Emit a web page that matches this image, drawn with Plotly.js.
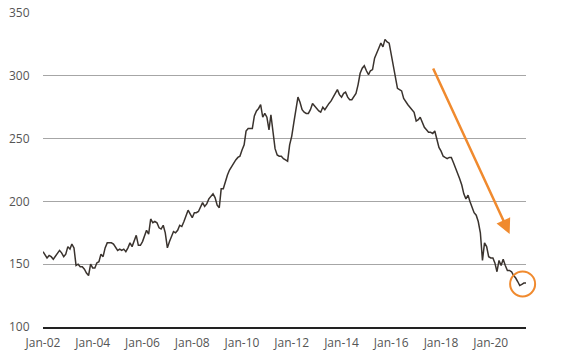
<!DOCTYPE html>
<html>
<head>
<meta charset="utf-8">
<script src="https://cdn.plot.ly/plotly-3.0.1.min.js"></script>
<style>
  html, body { margin: 0; padding: 0; background: #fff; }
  #chart { width: 565px; height: 363px; }
</style>
</head>
<body>
<div id="chart"></div>
<script>
// Monthly series, Jan-2002 .. Jun-2021
const startYear = 2002;
const values = [
  160, 157, 155, 157, 156, 154, 156, 159, 161, 159, 156, 158, // 2002
  164, 162, 166, 163, 149, 150, 148, 148, 146, 143, 141, 150, // 2003
  147, 147, 151, 152, 158, 156, 163, 167, 167, 167, 166, 163, // 2004
  161, 162, 161, 162, 160, 163, 167, 164, 169, 173, 165, 165, // 2005
  168, 173, 177, 174, 186, 183, 184, 183, 179, 178, 181, 175, // 2006
  163, 168, 172, 176, 175, 177, 181, 180, 184, 188, 193, 190, // 2007
  187, 191, 191, 192, 195, 199, 196, 198, 202, 204, 206, 203, // 2008
  197, 195, 210, 210, 216, 221, 225, 228, 230, 233, 235, 236, // 2009
  241, 245, 256, 258, 258, 258, 268, 272, 274, 277, 267, 270, // 2010
  267, 257, 269, 256, 242, 237, 236, 236, 234, 233, 232, 245, // 2011
  252, 263, 274, 283, 279, 273, 271, 270, 270, 273, 278, 276, // 2012
  274, 272, 271, 275, 273, 276, 278, 280, 283, 287, 289, 285, // 2013
  283, 286, 287, 283, 281, 281, 284, 286, 293, 302, 306, 308, // 2014
  304, 301, 304, 305, 314, 319, 322, 326, 323, 329, 327, 326, // 2015
  316, 306, 298, 290, 289, 288, 282, 279, 277, 275, 273, 271, // 2016
  264, 265, 267, 262, 259, 257, 255, 255, 254, 256, 249, 243, // 2017
  240, 236, 235, 234, 235, 235, 231, 227, 223, 218, 213, 206, // 2018
  202, 205, 200, 195, 191, 189, 184, 175, 153, 167, 164, 156, // 2019
  155, 155, 151, 144, 153, 149, 154, 149, 145, 145, 144, 141, // 2020
  139, 136, 133, 134, 135, 135                                // 2021
];
const tickStart = '2002-01-01';
const rangeEnd = '2021-06-01';

// arrow (tail -> head) in data units
const arrowTail = { x: '2017-08-28', y: 307 };
const arrowHead = { x: '2020-10-04', y: 174 };
// circle marker around the latest readings (paper position so it is not clipped)
const circlePaper = { x: 0.993, y: 0.137 };

const dates = values.map((v, i) => {
  const y = startYear + Math.floor(i / 12);
  const m = (i % 12) + 1;
  return y + '-' + (m < 10 ? '0' + m : m) + '-01';
});

const orange = '#F08A2E';

const trace = {
  x: dates, y: values, type: 'scatter', mode: 'lines',
  line: { color: '#3a332e', width: 1.5 },
  hoverinfo: 'skip'
};

const layout = {
  width: 565, height: 363,
  margin: { l: 43, r: 39, t: 13, b: 36, pad: 0 },
  paper_bgcolor: '#fff', plot_bgcolor: '#fff',
  showlegend: false,
  font: { family: '"Open Sans", "Noto Sans", sans-serif', size: 12, color: '#555' },
  xaxis: {
    type: 'date',
    range: [tickStart, rangeEnd],
    tick0: tickStart, dtick: 'M24', tickformat: '%b-%y',
    showgrid: false, zeroline: false,
    showline: true, linecolor: '#222', linewidth: 2,
    ticks: 'outside', ticklen: 4, tickcolor: 'rgba(0,0,0,0)',
    tickfont: { size: 12, color: '#555' }
  },
  yaxis: {
    range: [100, 350],
    tickvals: [100, 150, 200, 250, 300, 350],
    showgrid: true, gridcolor: '#a6a6a6', gridwidth: 1,
    zeroline: false, showline: false,
    ticks: 'outside', ticklen: 10, tickcolor: 'rgba(0,0,0,0)',
    tickfont: { size: 12, color: '#555' }
  },
  annotations: [{
    x: arrowHead.x, y: arrowHead.y, xref: 'x', yref: 'y',
    ax: arrowTail.x, ay: arrowTail.y, axref: 'x', ayref: 'y',
    showarrow: true, arrowhead: 2, arrowsize: 1.2, arrowwidth: 2.5,
    arrowcolor: orange, text: ''
  }],
  shapes: [{
    type: 'circle', xref: 'paper', yref: 'paper',
    xsizemode: 'pixel', ysizemode: 'pixel',
    xanchor: circlePaper.x, yanchor: circlePaper.y,
    x0: -12.5, x1: 12.5, y0: -12.5, y1: 12.5,
    line: { color: orange, width: 2 }
  }]
};

Plotly.newPlot('chart', [trace], layout, { displayModeBar: false, staticPlot: true });
</script>
</body>
</html>
